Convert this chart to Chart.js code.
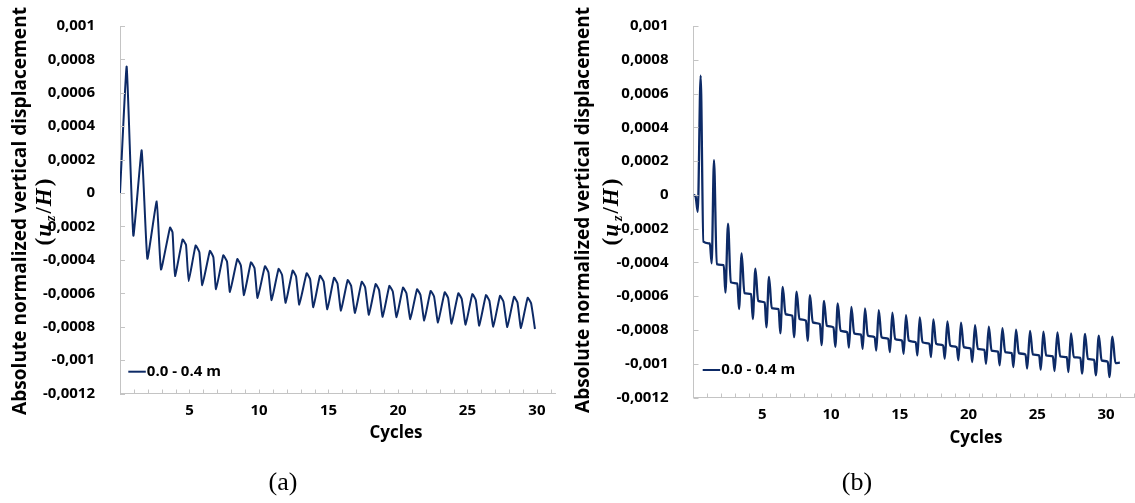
<!DOCTYPE html>
<html>
<head>
<meta charset="utf-8">
<script src="https://cdn.jsdelivr.net/npm/chart.js@4.4.1/dist/chart.umd.min.js"></script>
<style>
  html, body { margin: 0; padding: 0; background: #fff; }
  #page { position: relative; width: 1135px; height: 503px; overflow: hidden; }
  .panel { position: absolute; top: 0; height: 503px; }
  #panel-a { left: 0; width: 565px; }
  #panel-b { left: 565px; width: 570px; }
  .caption { position: absolute; top: 467px; line-height: 30px; font: 26px "Liberation Serif", serif; transform: translateX(-50%); color: #000; }
</style>
</head>
<body>
<div id="page">
  <div class="panel" id="panel-a"><canvas id="chart-a"></canvas></div>
  <div class="panel" id="panel-b"><canvas id="chart-b"></canvas></div>
  <div class="caption" style="left:283px">(a)</div>
  <div class="caption" style="left:857px">(b)</div>
</div>
<script>
// ---------------------------------------------------------------
//  Data
// ---------------------------------------------------------------
const SERIES_LABEL = "0.0 - 0.4 m";
const Y_TITLE = "Absolute normalized vertical displacement";
const X_TITLE = "Cycles";

const yTickValues = [-0.0012, -0.001, -0.0008, -0.0006, -0.0004, -0.0002, 0, 0.0002, 0.0004, 0.0006, 0.0008, 0.001];
const yTickLabels = ["-0,0012", "-0,001", "-0,0008", "-0,0006", "-0,0004", "-0,0002", "0", "0,0002", "0,0004", "0,0006", "0,0008", "0,001"];
const xLabelValues = [5, 10, 15, 20, 25, 30];

// (a) troughs, peaks and the shoulder after each peak
const cyclesA = [
  0, 0.48, 0.96, 1.56, 1.97, 2.64, 2.95, 3.6, 3.78, 3.96,
  4.5, 4.75, 4.94, 5.44, 5.71, 5.92, 6.47, 6.72, 6.91, 7.43, 7.7, 7.91,
  8.44, 8.7, 8.92, 9.42, 9.68, 9.9, 10.43, 10.68, 10.91, 11.41, 11.66, 11.92,
  12.42, 12.67, 12.9, 13.43, 13.68, 13.91, 14.39, 14.65, 14.92, 15.4, 15.65, 15.9,
  16.38, 16.63, 16.91, 17.39, 17.64, 17.91, 18.39, 18.64, 18.9, 19.38, 19.63, 19.9,
  20.36, 20.61, 20.89, 21.37, 21.62, 21.89, 22.35, 22.6, 22.88, 23.36, 23.61, 23.86,
  24.34, 24.59, 24.87, 25.35, 25.6, 25.85, 26.33, 26.58, 26.86, 27.34, 27.59, 27.87,
  28.35, 28.6, 28.85, 29.33, 29.58, 29.86
];
const uzA = [
  0, 7.57e-4, -2.55e-4, 2.56e-4, -3.93e-4, -0.5e-4, -4.58e-4, -2.06e-4, -2.35e-4, -4.97e-4,
  -2.78e-4, -3.1e-4, -5.27e-4, -3.14e-4, -3.54e-4, -5.52e-4, -3.46e-4, -3.85e-4, -5.76e-4, -3.73e-4, -4.1e-4, -5.92e-4,
  -3.95e-4, -4.35e-4, -6.11e-4, -4.15e-4, -4.5e-4, -6.29e-4, -4.38e-4, -4.75e-4, -6.41e-4, -4.54e-4, -4.9e-4, -6.57e-4,
  -4.64e-4, -5.0e-4, -6.68e-4, -4.8e-4, -5.15e-4, -6.84e-4, -4.95e-4, -5.3e-4, -6.96e-4, -5.07e-4, -5.42e-4, -7.04e-4,
  -5.21e-4, -5.55e-4, -7.18e-4, -5.31e-4, -5.65e-4, -7.29e-4, -5.45e-4, -5.8e-4, -7.41e-4, -5.56e-4, -5.9e-4, -7.43e-4,
  -5.66e-4, -6.0e-4, -7.55e-4, -5.76e-4, -6.1e-4, -7.63e-4, -5.86e-4, -6.2e-4, -7.75e-4, -5.94e-4, -6.28e-4, -7.82e-4,
  -6.0e-4, -6.34e-4, -7.88e-4, -6.05e-4, -6.4e-4, -7.94e-4, -6.11e-4, -6.45e-4, -8.0e-4, -6.15e-4, -6.5e-4, -8.02e-4,
  -6.21e-4, -6.55e-4, -8.08e-4, -6.27e-4, -6.6e-4, -8.14e-4
];

// (b) per cycle: dip, spike, start and end of the plateau
const cyclesB = [
  0, 0.15,
  0.31, 0.52, 0.72, 1.19,
  1.32, 1.49, 1.69, 2.2,
  2.32, 2.51, 2.71, 3.19,
  3.31, 3.5, 3.7, 4.19,
  4.31, 4.5, 4.7, 5.18,
  5.3, 5.49, 5.69, 6.19,
  6.31, 6.49, 6.69, 7.19,
  7.31, 7.5, 7.7, 8.18,
  8.3, 8.47, 8.67, 9.19,
  9.31, 9.49, 9.69, 10.18,
  10.31, 10.49, 10.69, 11.18,
  11.3, 11.48, 11.68, 12.18,
  12.3, 12.47, 12.67, 13.17,
  13.29, 13.47, 13.67, 14.16,
  14.28, 14.46, 14.66, 15.16,
  15.28, 15.45, 15.65, 16.16,
  16.28, 16.45, 16.65, 17.15,
  17.27, 17.44, 17.64, 18.15,
  18.27, 18.46, 18.66, 19.14,
  19.26, 19.45, 19.65, 20.15,
  20.27, 20.47, 20.67, 21.15,
  21.27, 21.47, 21.67, 22.14,
  22.26, 22.46, 22.66, 23.14,
  23.26, 23.45, 23.65, 24.14,
  24.26, 24.47, 24.67, 25.13,
  25.25, 25.44, 25.64, 26.13,
  26.25, 26.46, 26.66, 27.14,
  27.26, 27.45, 27.65, 28.13,
  28.25, 28.47, 28.67, 29.13,
  29.25, 29.47, 29.67, 30.12,
  30.24, 30.46, 30.68, 31.0
];
const uzB = [
  0, -0.1e-4,
  -1.0e-4, 7.06e-4, -2.77e-4, -2.88e-4,
  -4.05e-4, 2.06e-4, -4.1e-4, -4.16e-4,
  -5.79e-4, -1.71e-4, -5.18e-4, -5.26e-4,
  -6.76e-4, -3.47e-4, -5.82e-4, -5.88e-4,
  -7.35e-4, -4.37e-4, -6.28e-4, -6.37e-4,
  -7.85e-4, -4.86e-4, -6.71e-4, -6.77e-4,
  -8.2e-4, -5.45e-4, -7.06e-4, -7.16e-4,
  -8.43e-4, -5.73e-4, -7.35e-4, -7.45e-4,
  -8.65e-4, -5.94e-4, -7.55e-4, -7.65e-4,
  -8.9e-4, -6.28e-4, -7.75e-4, -7.85e-4,
  -9.0e-4, -6.43e-4, -8.04e-4, -8.14e-4,
  -9.05e-4, -6.63e-4, -8.2e-4, -8.28e-4,
  -9.12e-4, -6.73e-4, -8.33e-4, -8.43e-4,
  -9.22e-4, -6.82e-4, -8.43e-4, -8.53e-4,
  -9.31e-4, -6.98e-4, -8.53e-4, -8.63e-4,
  -9.41e-4, -7.12e-4, -8.63e-4, -8.73e-4,
  -9.51e-4, -7.26e-4, -8.73e-4, -8.82e-4,
  -9.61e-4, -7.37e-4, -8.82e-4, -8.92e-4,
  -9.7e-4, -7.49e-4, -8.92e-4, -9.02e-4,
  -9.8e-4, -7.57e-4, -9.02e-4, -9.1e-4,
  -9.9e-4, -7.71e-4, -9.12e-4, -9.18e-4,
  -10.0e-4, -7.8e-4, -9.22e-4, -9.28e-4,
  -10.1e-4, -7.9e-4, -9.31e-4, -9.37e-4,
  -10.2e-4, -7.98e-4, -9.37e-4, -9.45e-4,
  -10.29e-4, -8.06e-4, -9.45e-4, -9.51e-4,
  -10.35e-4, -8.1e-4, -9.51e-4, -9.57e-4,
  -10.43e-4, -8.14e-4, -9.57e-4, -9.61e-4,
  -10.49e-4, -8.2e-4, -9.61e-4, -9.65e-4,
  -10.59e-4, -8.24e-4, -9.71e-4, -9.77e-4,
  -10.69e-4, -8.33e-4, -9.8e-4, -9.88e-4,
  -10.79e-4, -8.39e-4, -9.96e-4, -9.94e-4
];

// ---------------------------------------------------------------
//  Look
// ---------------------------------------------------------------
const LINE_COLOR = "#0d2a66";
const AXIS_GREY = "#c4c4c4";
const SANS = '"Open Sans", "Liberation Sans", sans-serif';
const SERIF = '"Liberation Serif", "DejaVu Serif", serif';

Chart.defaults.font.family = SANS;
Chart.defaults.color = "#000";

// ---------------------------------------------------------------
//  Inward tick marks, axis titles and the in-plot legend
// ---------------------------------------------------------------
const decorPlugin = {
  id: "decor",
  afterDraw(chart, args, o) {
    const { ctx, chartArea: a, scales: { x, y } } = chart;
    ctx.save();

    // tick marks point into the plot
    ctx.strokeStyle = AXIS_GREY;
    ctx.lineWidth = 1;
    ctx.beginPath();
    x.ticks.forEach(t => {
      const px = Math.round(x.getPixelForValue(t.value)) + 0.5;
      ctx.moveTo(px, a.bottom);
      ctx.lineTo(px, a.bottom - 4);
    });
    y.ticks.forEach(t => {
      const py = Math.round(y.getPixelForValue(t.value)) + 0.5;
      ctx.moveTo(a.left, py);
      ctx.lineTo(a.left + 5, py);
    });
    ctx.stroke();

    ctx.fillStyle = "#000";

    // x title
    ctx.font = `bold 17px ${SANS}`;
    ctx.textAlign = "center";
    ctx.textBaseline = "middle";
    ctx.fillText(X_TITLE, a.left + o.xTitleDx, a.bottom + o.xTitleDy);

    // legend
    const ds = chart.data.datasets[0];
    const ly = a.bottom - o.legendDy;
    ctx.strokeStyle = ds.borderColor;
    ctx.lineWidth = 2;
    ctx.beginPath();
    ctx.moveTo(a.left + o.legendDx, ly);
    ctx.lineTo(a.left + o.legendDx + 17.5, ly);
    ctx.stroke();
    ctx.font = `bold 15px ${SANS}`;
    ctx.textAlign = "left";
    ctx.fillText(ds.label, a.left + o.legendDx + 18.5, ly);

    // y title, first line fitted to the length seen in the figure
    ctx.save();
    ctx.translate(o.yTitleX, o.yTitleY);
    ctx.rotate(-Math.PI / 2);
    ctx.font = `bold 20px ${SANS}`;
    const size = 20 * o.yTitleLen / ctx.measureText(Y_TITLE).width;
    ctx.font = `bold ${size.toFixed(2)}px ${SANS}`;
    ctx.textAlign = "center";
    ctx.fillText(Y_TITLE, 0, 0);
    ctx.restore();

    // second line: (u_z / H)
    const parts = [
      { t: "(", f: `bold 23px ${SERIF}`, dy: 0, gap: 1 },
      { t: "u", f: `bold italic 23px ${SERIF}`, dy: 0, gap: 3 },
      { t: "z", f: `bold italic 14px ${SERIF}`, dy: 6, gap: 2 },
      { t: "/", f: `bold 23px ${SERIF}`, dy: 0, gap: 1 },
      { t: "H", f: `bold italic 23px ${SERIF}`, dy: 0, gap: 2 },
      { t: ")", f: `bold 23px ${SERIF}`, dy: 0, gap: 0 },
    ];
    ctx.save();
    ctx.translate(o.yMathX, o.yMathY);
    ctx.rotate(-Math.PI / 2);
    ctx.textAlign = "left";
    let total = 0;
    parts.forEach(p => { ctx.font = p.f; p.w = ctx.measureText(p.t).width + p.gap; total += p.w; });
    let cx = -total / 2;
    parts.forEach(p => { ctx.font = p.f; ctx.fillText(p.t, cx, p.dy); cx += p.w; });
    ctx.restore();

    ctx.restore();
  },
};

// ---------------------------------------------------------------
//  One panel
// ---------------------------------------------------------------
function buildChart(canvasId, cycles, uz, cfg) {
  const xTickValues = [];
  for (let k = 1; k <= cfg.lastTick; k++) xTickValues.push(k);

  return new Chart(document.getElementById(canvasId), {
    type: "line",
    data: {
      datasets: [{
        label: SERIES_LABEL,
        data: cycles.map((c, i) => ({ x: c, y: uz[i] })),
        borderColor: LINE_COLOR,
        borderWidth: cfg.lineWidth,
        pointRadius: 0,
        fill: false,
        tension: cfg.tension,
        cubicInterpolationMode: cfg.mode,
      }],
    },
    options: {
      responsive: true,
      maintainAspectRatio: false,
      animation: false,
      events: [],
      layout: { padding: { top: cfg.top, right: cfg.right, bottom: 0, left: 0 } },
      scales: {
        x: {
          type: "linear",
          min: 0,
          max: cfg.xMax,
          afterBuildTicks: s => { s.ticks = xTickValues.map(v => ({ value: v })); },
          afterFit: s => { s.height = cfg.xAxisHeight; },
          grid: { display: false },
          border: { display: true, color: AXIS_GREY, width: 1 },
          ticks: {
            autoSkip: false,
            maxRotation: 0,
            padding: 0,
            font: { size: 15, weight: "bold" },
            color: "#000",
            callback: v => xLabelValues.includes(v) ? String(v) : "",
          },
        },
        y: {
          min: -0.0012,
          max: 0.001,
          afterBuildTicks: s => { s.ticks = yTickValues.map(v => ({ value: v })); },
          afterFit: s => { s.width = cfg.yAxisWidth; },
          grid: { display: false },
          border: { display: true, color: AXIS_GREY, width: 1 },
          ticks: {
            padding: 17,
            font: { size: 15, weight: "bold" },
            color: "#000",
            callback: (v, i) => yTickLabels[i],
          },
        },
      },
      plugins: {
        legend: { display: false },
        tooltip: { enabled: false },
        decor: cfg.decor,
      },
    },
    plugins: [decorPlugin],
  });
}

buildChart("chart-a", cyclesA, uzA, {
  top: 21, right: 10, xMax: 31.3, lastTick: 31,
  xAxisHeight: 109.5, yAxisWidth: 120,
  tension: 0.12, mode: "default", lineWidth: 2,
  decor: {
    xTitleDx: 276, xTitleDy: 39.5,
    legendDx: 8.3, legendDy: 21.8,
    yTitleX: 21, yTitleY: 211, yTitleLen: 408,
    yMathX: 45.5, yMathY: 212,
  },
});

buildChart("chart-b", cyclesB, uzB, {
  top: 23.3, right: 0, xMax: 32.1, lastTick: 32,
  xAxisHeight: 105.5, yAxisWidth: 128.5,
  tension: 0.4, mode: "monotone", lineWidth: 2.3,
  decor: {
    xTitleDx: 282.5, xTitleDy: 40.5,
    legendDx: 9.2, legendDy: 27.5,
    yTitleX: 19, yTitleY: 210, yTitleLen: 406,
    yMathX: 47, yMathY: 212,
  },
});
</script>
</body>
</html>
